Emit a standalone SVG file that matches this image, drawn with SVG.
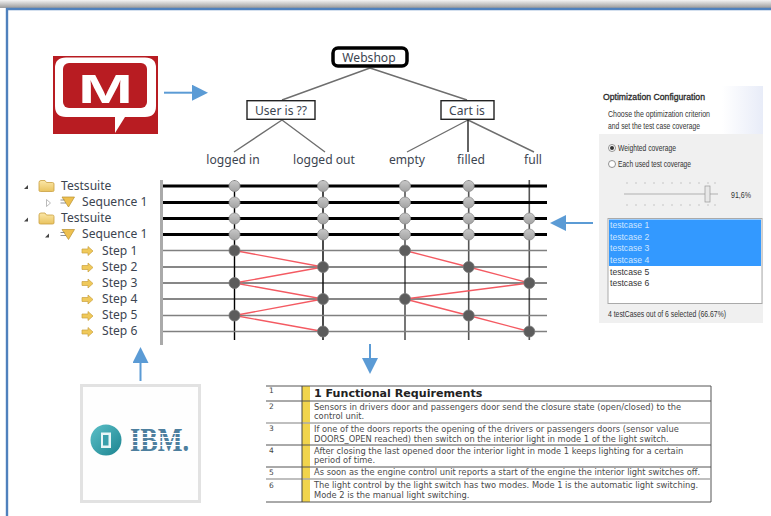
<svg xmlns="http://www.w3.org/2000/svg" width="771" height="516" viewBox="0 0 771 516">
<defs>
<linearGradient id="shadow" x1="0" y1="0" x2="0" y2="1"><stop offset="0" stop-color="#f4f4f4"/><stop offset="1" stop-color="#9a9a9a"/></linearGradient>
<linearGradient id="panelTop" x1="0" y1="0" x2="1" y2="0"><stop offset="0" stop-color="#ffffff"/><stop offset="0.75" stop-color="#ffffff"/><stop offset="1" stop-color="#e8ecf8"/></linearGradient>
<linearGradient id="ballLight" x1="0" y1="0" x2="0" y2="1"><stop offset="0" stop-color="#c8c8c8"/><stop offset="1" stop-color="#a2a2a2"/></linearGradient>
<linearGradient id="folder" x1="0" y1="0" x2="0" y2="1"><stop offset="0" stop-color="#fbe7a8"/><stop offset="1" stop-color="#e9c35f"/></linearGradient>
<linearGradient id="door" x1="0" y1="0" x2="1" y2="1"><stop offset="0" stop-color="#5cc0c8"/><stop offset="1" stop-color="#1c8490"/></linearGradient>
<marker id="ah" markerUnits="userSpaceOnUse" markerWidth="17" markerHeight="16" refX="1" refY="8" orient="auto"><path d="M1 0L17 8L1 16Z" fill="#5b9bd5"/></marker>
<g id="fold"><path d="M0 2.500Q0 0.500 2 0.500H6L7.500 2.500H13.500Q15 2.500 15 4V10.500Q15 11.500 13.500 11.500H1.500Q0 11.500 0 10.500Z" fill="url(#folder)" stroke="#c9a040" stroke-width="0.8"/></g>
<g id="seq"><path d="M1.500 0H14L8 10Z" fill="#eec04f" stroke="#b8902f" stroke-width="0.7"/><path d="M0 3H4M0 6H5.500" stroke="#777" stroke-width="0.8"/></g>
<path id="stp" d="M0 2.500H6V0L11 4.500L6 9V6.500H0Z" fill="#f0c95a" stroke="#c9a040" stroke-width="0.7"/>
<circle id="lb" r="5.500" fill="url(#ballLight)" stroke="#8e8e8e" stroke-width="0.8"/>
<circle id="db" r="5.500" fill="#5c5c5c" stroke="#777" stroke-width="0.8"/>
</defs>
<style>
.ui{font-family:"Noto Sans","Open Sans",sans-serif;font-size:12.1px;fill:#3c4450}
.c{text-anchor:middle}
.box{fill:#fff;stroke:#222;stroke-width:1.4}
.tl{stroke:#6e6e6e;stroke-width:1.4;fill:none}
.hb{stroke:#000;stroke-width:3}
.ht{stroke:#111;stroke-width:1.2}
.hg{stroke:#808080;stroke-width:1.5}
.v1{stroke:#000;stroke-width:1.4}
.v2{stroke:#555;stroke-width:1.6}
.red{stroke:#f45a62;stroke-width:1.3}
.p{font-family:"Liberation Sans",Arial,sans-serif;font-size:8.6px;fill:#333}
.q{font-family:"DejaVu Sans",Verdana,sans-serif;font-size:8.3px;fill:#4a4a4a}
.n{font-family:"DejaVu Sans",sans-serif;font-size:7.5px;fill:#444}
.rl{stroke:#555;stroke-width:1}
</style>
<rect width="771" height="516" fill="#fff"/>
<rect x="0" y="0" width="771" height="8" fill="url(#shadow)"/>
<path id="frame" d="M7 516V9H771" fill="none" stroke="#4f81bd" stroke-width="2.400"/>

<g id="mqube-logo">
<rect x="53" y="56" width="105" height="78" fill="#b81c22"/>
<path d="M66 57.500H145Q156 57.500 156 68V106Q156 117 145 117H125L115 133V117H66Q55 117 55 106V68Q55 57.500 66 57.500Z" fill="#fff"/>
<rect x="63" y="63" width="84" height="45" rx="6" fill="#b81c22"/>
<text x="78" y="103" font-family="Liberation Sans,sans-serif" font-weight="700" font-size="40" fill="#fff" textLength="55" lengthAdjust="spacingAndGlyphs">M</text>
</g>

<g id="tree-edges" class="connectors">
<path class="tl" d="M370 68L282 100M370 68L467 100M282 120L234 152M282 120L325 152M468 120L407 152M468 120L534 152"/>
<path d="M468 120V152" stroke="#222" stroke-width="1.400"/>
</g>
<g id="node-webshop"><rect x="333" y="48" width="74" height="18" rx="5" fill="#fff" stroke="#000" stroke-width="3.500"/><text class="ui c" x="369" y="62">Webshop</text></g>
<g id="node-user"><rect class="box" x="247" y="100.700" width="68" height="18.600"/><text class="ui c" x="281" y="114.500">User is ??</text></g>
<g id="node-cart"><rect class="box" x="441" y="100.700" width="53" height="18.600"/><text class="ui c" x="467" y="114.500">Cart is</text></g>
<g id="leaf-logged-in"><text class="ui c" x="233" y="163.500">logged in</text></g>
<g id="leaf-logged-out"><text class="ui c" x="324" y="163.500">logged out</text></g>
<g id="leaf-empty"><text class="ui c" x="407" y="163.500">empty</text></g>
<g id="leaf-filled"><text class="ui c" x="471" y="163.500">filled</text></g>
<g id="leaf-full"><text class="ui c" x="533" y="163.500">full</text></g>

<g id="tree-view">
<path d="M24 189L28 185V189Z M24 221.500L28 217.500V221.500Z M45 237.500L49 233.500V237.500Z" fill="#444"/>
<path d="M46.500 199.500L50.500 203L46.500 206.500Z" fill="#fff" stroke="#aaa" stroke-width="0.8"/>
<use href="#fold" x="39" y="180"/><use href="#fold" x="39" y="212.500"/>
<use href="#seq" x="60.500" y="197"/><use href="#seq" x="60.500" y="229.500"/>
<use href="#stp" x="82" y="246.500"/><use href="#stp" x="82" y="263"/><use href="#stp" x="82" y="279"/><use href="#stp" x="82" y="295"/><use href="#stp" x="82" y="311.500"/><use href="#stp" x="82" y="327.500"/>
<text class="ui" x="61" y="190">Testsuite</text>
<text class="ui" x="82" y="206">Sequence 1</text>
<text class="ui" x="61" y="222">Testsuite</text>
<text class="ui" x="82" y="238">Sequence 1</text>
<text class="ui" x="102" y="255">Step 1</text>
<text class="ui" x="102" y="271">Step 2</text>
<text class="ui" x="102" y="287">Step 3</text>
<text class="ui" x="102" y="303">Step 4</text>
<text class="ui" x="102" y="319">Step 5</text>
<text class="ui" x="102" y="335">Step 6</text>
</g>

<g id="matrix">
<rect x="160" y="180" width="3" height="165" fill="#aaa"/>
<path class="v1" d="M234.500 180V340M323 180V340"/>
<path class="v2" d="M405 180V340M468.700 180V340M529.300 180V340"/>
<path class="hb" d="M163 186H547M163 202.500H547M163 218.500H547M163 234.500H547"/>
<path class="hg" d="M163 250.500H547M163 331.500H547M163 315.500H547"/>
<path class="ht" d="M163 267H547M163 283H547M163 299H547"/>
<path class="red" fill="none" d="M234.500 250.500L323 267L234.500 283L323 299L234.500 315.500L323 331.500M405 250.500L468.700 267L529.300 283L405 299L468.700 315.500L529.300 331.500"/>
<use href="#lb" x="234.500" y="186"/><use href="#lb" x="234.500" y="202.500"/><use href="#lb" x="234.500" y="218.500"/><use href="#lb" x="234.500" y="234.500"/>
<use href="#lb" x="323" y="186"/><use href="#lb" x="323" y="202.500"/><use href="#lb" x="323" y="218.500"/><use href="#lb" x="323" y="234.500"/>
<use href="#lb" x="405" y="186"/><use href="#lb" x="405" y="202.500"/><use href="#lb" x="405" y="218.500"/><use href="#lb" x="405" y="234.500"/>
<use href="#lb" x="468.700" y="186"/><use href="#lb" x="468.700" y="202.500"/><use href="#lb" x="468.700" y="218.500"/><use href="#lb" x="468.700" y="234.500"/>
<use href="#lb" x="529.300" y="218.500"/><use href="#lb" x="529.300" y="234.500"/>
<use href="#db" x="234.500" y="250.500"/><use href="#db" x="234.500" y="283"/><use href="#db" x="234.500" y="315.500"/>
<use href="#db" x="323" y="267"/><use href="#db" x="323" y="299"/><use href="#db" x="323" y="331.500"/>
<use href="#db" x="405" y="250.500"/><use href="#db" x="405" y="299"/>
<use href="#db" x="468.700" y="267"/><use href="#db" x="468.700" y="315.500"/>
<use href="#db" x="529.300" y="283"/><use href="#db" x="529.300" y="331.500"/>
</g>

<g id="optimization-panel">
<rect x="599" y="86" width="164" height="48" fill="url(#panelTop)"/>
<rect x="599" y="134" width="164" height="189" fill="#f0f0f0"/>
<text class="p" x="603" y="100" stroke="#222" stroke-width="0.3" textLength="102" lengthAdjust="spacingAndGlyphs">Optimization Configuration</text>
<text class="p" x="608" y="117" textLength="102" lengthAdjust="spacingAndGlyphs">Choose the optimization criterion</text>
<text class="p" x="608" y="129" textLength="92" lengthAdjust="spacingAndGlyphs">and set the test case coverage</text>
<circle cx="612" cy="148" r="3.500" fill="#fff" stroke="#777" stroke-width="0.8"/><circle cx="612" cy="148" r="2" fill="#333"/>
<circle cx="612" cy="164" r="3.500" fill="#fff" stroke="#777" stroke-width="0.8"/>
<text class="p" x="618" y="151" textLength="58" lengthAdjust="spacingAndGlyphs">Weighted coverage</text>
<text class="p" x="618" y="167" textLength="73" lengthAdjust="spacingAndGlyphs">Each used test coverage</text>
<path d="M624 194H718" stroke="#d0d0d0" stroke-width="2"/>
<path d="M627 182V184M636 182V184M645 182V184M654 182V184M663 182V184M672 182V184M681 182V184M690 182V184M699 182V184M708 182V184M715 182V184M627 204V206M636 204V206M645 204V206M654 204V206M663 204V206M672 204V206M681 204V206M690 204V206M699 204V206M708 204V206M715 204V206" stroke="#bbb" stroke-width="0.8"/>
<rect x="705" y="186" width="5" height="16" fill="#e8e8e8" stroke="#999" stroke-width="0.7"/>
<text class="p" x="731" y="198" textLength="20" lengthAdjust="spacingAndGlyphs">91,6%</text>
<rect x="608" y="218.500" width="154" height="85" fill="#fff" stroke="#aaa" stroke-width="1"/>
<rect x="609" y="219.500" width="152" height="46.500" fill="#3399ff"/>
<text class="p" x="610" y="228" style="fill:#cfe6ff">testcase 1</text>
<text class="p" x="610" y="240" style="fill:#cfe6ff">testcase 2</text>
<text class="p" x="610" y="251" style="fill:#cfe6ff">testcase 3</text>
<text class="p" x="610" y="263" style="fill:#cfe6ff">testcase 4</text>
<text class="p" x="610" y="275">testcase 5</text>
<text class="p" x="610" y="286">testcase 6</text>
<text class="p" x="608" y="317" textLength="118" lengthAdjust="spacingAndGlyphs">4 testCases out of 6 selected (66.67%)</text>
</g>

<g id="ibm-logo">
<rect x="81.500" y="385.500" width="118" height="116" fill="#fefefe" stroke="#e2e2e2" stroke-width="3"/>
<circle cx="106" cy="440" r="15.500" fill="url(#door)"/>
<rect x="101" y="432.500" width="10" height="15.500" fill="#e8f6f7"/><rect x="103" y="435" width="5.500" height="10.500" fill="#3aa0ac"/>
<text x="130" y="451" font-family="Liberation Serif,serif" font-weight="700" font-size="33" fill="#4d7f9e" textLength="59" lengthAdjust="spacingAndGlyphs">IBM.</text>
<path d="M128 433.500H192M128 437.500H192M128 441.500H192M128 445.500H192" stroke="#fefefe" stroke-width="1.200"/>
</g>

<g id="requirements-table">
<rect x="266" y="386" width="445" height="116" fill="#fff"/>
<rect x="302" y="386" width="8" height="116" fill="#f1d44c"/>
<path d="M266 386H711M266 401H711M266 445H711M266 467H711M266 502H711M711 386V502" class="rl"/>
<path d="M266 423H711M266 479H711" stroke="#aaa" stroke-width="1.500"/>
<path d="M302 386V502" stroke="#444" stroke-width="1"/>
<text class="n" x="269" y="393">1</text><text class="n" x="269" y="409">2</text><text class="n" x="269" y="431">3</text><text class="n" x="269" y="453">4</text><text class="n" x="269" y="475">5</text><text class="n" x="269" y="488">6</text>
<text x="314" y="397" font-family="DejaVu Sans,Verdana,sans-serif" font-weight="700" font-size="11.100" fill="#222">1 Functional Requirements</text>
<text class="q" x="314" y="409.500">Sensors in drivers door and passengers door send the closure state (open/closed) to the</text>
<text class="q" x="314" y="419">control unit.</text>
<text class="q" x="314" y="432">If one of the doors reports the opening of the drivers or passengers doors (sensor value</text>
<text class="q" x="314" y="441.500">DOORS_OPEN reached) then switch on the interior light in mode 1 of the light switch.</text>
<text class="q" x="314" y="453.500">After closing the last opened door the interior light in mode 1 keeps lighting for a certain</text>
<text class="q" x="314" y="463">period of time.</text>
<text class="q" x="314" y="475">As soon as the engine control unit reports a start of the engine the interior light switches off.</text>
<text class="q" x="314" y="488">The light control by the light switch has two modes. Mode 1 is the automatic light switching.</text>
<text class="q" x="314" y="497.500">Mode 2 is the manual light switching.</text>
</g>

<g id="connectors" fill="none" stroke="#5b9bd5" stroke-width="2">
<path d="M164 92.700H192" marker-end="url(#ah)"/>
<path d="M593 223H566" marker-end="url(#ah)"/>
<path d="M140.500 381V363" marker-end="url(#ah)"/>
<path d="M370 344V358" marker-end="url(#ah)"/>
</g>
</svg>
